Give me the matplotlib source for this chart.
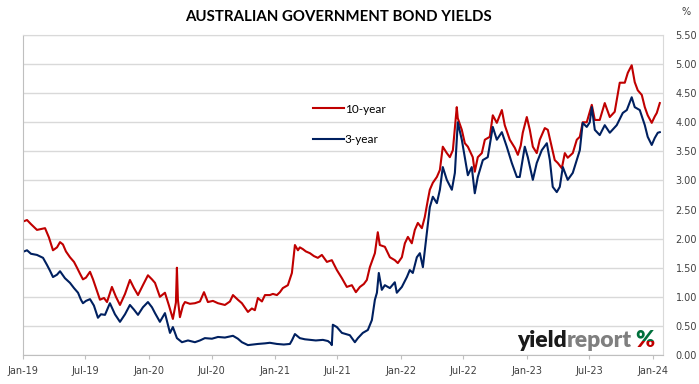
#
# plot.py - Australian government bond yields, 10-year vs 3-year (Jan 2019 - Jan 2024)
#
import matplotlib
matplotlib.use('Agg')
import matplotlib.pyplot as plt
import matplotlib.dates as mdates
import matplotlib.ticker as ticker
from matplotlib.transforms import Bbox
import pandas as pd

# Time of each reading in decimal years, and the yield (%)
t10 = [2019.008, 2019.032, 2019.063, 2019.111, 2019.175, 2019.206, 2019.238, 2019.270, 2019.294, 2019.317,
       2019.341, 2019.373, 2019.405, 2019.429, 2019.452, 2019.476, 2019.500, 2019.532, 2019.556, 2019.587,
       2019.611, 2019.643, 2019.667, 2019.706, 2019.738, 2019.770, 2019.810, 2019.849, 2019.881, 2019.913,
       2019.952, 2019.992, 2020.024, 2020.048, 2020.087, 2020.127, 2020.159, 2020.190, 2020.214, 2020.222,
       2020.230, 2020.246, 2020.270, 2020.286, 2020.325, 2020.365, 2020.405, 2020.437, 2020.468, 2020.508,
       2020.548, 2020.603, 2020.643, 2020.667, 2020.706, 2020.738, 2020.786, 2020.817, 2020.841, 2020.865,
       2020.897, 2020.921, 2020.960, 2020.984, 2021.016, 2021.040, 2021.063, 2021.103, 2021.135, 2021.159,
       2021.183, 2021.198, 2021.222, 2021.246, 2021.278, 2021.310, 2021.341, 2021.373, 2021.413, 2021.452,
       2021.492, 2021.532, 2021.571, 2021.611, 2021.643, 2021.675, 2021.706, 2021.730, 2021.754, 2021.794,
       2021.817, 2021.833, 2021.873, 2021.913, 2021.952, 2021.976, 2022.008, 2022.032, 2022.056, 2022.087,
       2022.111, 2022.135, 2022.167, 2022.190, 2022.214, 2022.230, 2022.254, 2022.286, 2022.310, 2022.333,
       2022.365, 2022.389, 2022.413, 2022.444, 2022.452, 2022.484, 2022.508, 2022.532, 2022.571, 2022.587,
       2022.611, 2022.643, 2022.667, 2022.706, 2022.730, 2022.762, 2022.802, 2022.825, 2022.865, 2022.905,
       2022.929, 2022.952, 2022.968, 2023.000, 2023.024, 2023.048, 2023.079, 2023.103, 2023.143, 2023.167,
       2023.198, 2023.222, 2023.246, 2023.278, 2023.302, 2023.325, 2023.365, 2023.397, 2023.421, 2023.444,
       2023.476, 2023.516, 2023.540, 2023.579, 2023.619, 2023.659, 2023.698, 2023.738, 2023.778, 2023.802,
       2023.833, 2023.857, 2023.881, 2023.913, 2023.937, 2023.960, 2023.992, 2024.016, 2024.032, 2024.056]
y10 = [2.30, 2.32, 2.25, 2.15, 2.18, 2.02, 1.80, 1.85, 1.94, 1.90,
       1.78, 1.68, 1.60, 1.50, 1.40, 1.30, 1.33, 1.43, 1.30, 1.10,
       0.95, 0.98, 0.91, 1.17, 1.00, 0.86, 1.05, 1.29, 1.15, 1.03,
       1.20, 1.37, 1.30, 1.24, 1.00, 1.07, 0.85, 0.62, 0.90, 1.50,
       0.95, 0.65, 0.85, 0.91, 0.88, 0.89, 0.92, 1.08, 0.91, 0.93,
       0.89, 0.86, 0.92, 1.03, 0.95, 0.89, 0.74, 0.80, 0.77, 0.98,
       0.92, 1.03, 1.03, 1.05, 1.03, 1.08, 1.15, 1.20, 1.41, 1.89,
       1.80, 1.85, 1.82, 1.78, 1.75, 1.70, 1.67, 1.72, 1.60, 1.63,
       1.46, 1.32, 1.17, 1.20, 1.08, 1.17, 1.22, 1.29, 1.51, 1.75,
       2.11, 1.89, 1.86, 1.68, 1.63, 1.58, 1.68, 1.92, 2.03, 1.92,
       2.15, 2.27, 2.18, 2.37, 2.66, 2.84, 2.96, 3.06, 3.18, 3.58,
       3.47, 3.40, 3.52, 4.26, 4.07, 3.87, 3.64, 3.58, 3.40, 3.15,
       3.40, 3.47, 3.70, 3.75, 4.12, 3.99, 4.21, 3.95, 3.70, 3.56,
       3.44, 3.60, 3.82, 4.09, 3.87, 3.58, 3.47, 3.70, 3.90, 3.87,
       3.58, 3.35, 3.30, 3.21, 3.47, 3.39, 3.47, 3.70, 3.75, 4.00,
       4.00, 4.30, 4.04, 4.04, 4.33, 4.09, 4.18, 4.68, 4.68, 4.85,
       4.98, 4.69, 4.55, 4.47, 4.26, 4.12, 3.99, 4.10, 4.16, 4.33]

t3 = [2019.008, 2019.032, 2019.063, 2019.111, 2019.159, 2019.190, 2019.214, 2019.238, 2019.270, 2019.294,
      2019.333, 2019.373, 2019.405, 2019.437, 2019.460, 2019.476, 2019.500, 2019.532, 2019.563, 2019.595,
      2019.619, 2019.651, 2019.690, 2019.730, 2019.770, 2019.810, 2019.849, 2019.881, 2019.913, 2019.952,
      2019.992, 2020.024, 2020.048, 2020.087, 2020.127, 2020.167, 2020.190, 2020.222, 2020.262, 2020.310,
      2020.365, 2020.405, 2020.444, 2020.500, 2020.548, 2020.603, 2020.667, 2020.706, 2020.738, 2020.786,
      2020.825, 2020.865, 2020.921, 2020.960, 2021.016, 2021.071, 2021.119, 2021.135, 2021.159, 2021.198,
      2021.238, 2021.278, 2021.325, 2021.381, 2021.421, 2021.444, 2021.452, 2021.460, 2021.492, 2021.532,
      2021.563, 2021.595, 2021.635, 2021.659, 2021.698, 2021.738, 2021.770, 2021.794, 2021.810, 2021.825,
      2021.849, 2021.873, 2021.913, 2021.952, 2021.968, 2022.008, 2022.048, 2022.071, 2022.095, 2022.127,
      2022.151, 2022.175, 2022.206, 2022.230, 2022.254, 2022.286, 2022.310, 2022.333, 2022.365, 2022.405,
      2022.429, 2022.452, 2022.484, 2022.508, 2022.532, 2022.563, 2022.587, 2022.611, 2022.651, 2022.690,
      2022.730, 2022.762, 2022.802, 2022.841, 2022.881, 2022.921, 2022.944, 2022.984, 2023.008, 2023.048,
      2023.079, 2023.119, 2023.159, 2023.183, 2023.206, 2023.238, 2023.262, 2023.286, 2023.325, 2023.365,
      2023.397, 2023.421, 2023.444, 2023.476, 2023.500, 2023.516, 2023.540, 2023.579, 2023.619, 2023.659,
      2023.714, 2023.762, 2023.794, 2023.833, 2023.857, 2023.897, 2023.937, 2023.960, 2023.992, 2024.016,
      2024.040, 2024.056]
y3 = [1.78, 1.80, 1.74, 1.72, 1.67, 1.55, 1.45, 1.34, 1.38, 1.44,
      1.32, 1.24, 1.15, 1.07, 0.95, 0.89, 0.93, 0.96, 0.85, 0.64,
      0.70, 0.69, 0.89, 0.70, 0.57, 0.70, 0.86, 0.78, 0.69, 0.82,
      0.91, 0.82, 0.72, 0.57, 0.72, 0.38, 0.48, 0.29, 0.22, 0.25,
      0.22, 0.25, 0.29, 0.28, 0.31, 0.30, 0.33, 0.28, 0.22, 0.17,
      0.18, 0.19, 0.20, 0.21, 0.19, 0.18, 0.19, 0.25, 0.36, 0.29,
      0.27, 0.26, 0.25, 0.26, 0.24, 0.20, 0.17, 0.52, 0.48, 0.38,
      0.36, 0.34, 0.22, 0.29, 0.38, 0.43, 0.60, 0.95, 1.07, 1.41,
      1.12, 1.20, 1.15, 1.25, 1.07, 1.17, 1.34, 1.46, 1.41, 1.68,
      1.75, 1.51, 2.10, 2.54, 2.72, 2.61, 2.84, 3.23, 3.01, 2.84,
      3.13, 4.00, 3.70, 3.40, 3.09, 3.23, 2.78, 3.06, 3.35, 3.40,
      3.92, 3.70, 3.83, 3.58, 3.30, 3.06, 3.06, 3.58, 3.40, 3.01,
      3.30, 3.52, 3.64, 3.35, 2.89, 2.80, 2.89, 3.23, 3.01, 3.13,
      3.35, 3.52, 3.99, 3.92, 4.00, 4.26, 3.87, 3.78, 3.95, 3.82,
      3.95, 4.16, 4.21, 4.43, 4.26, 4.21, 3.95, 3.75, 3.61, 3.73,
      3.82, 3.83]

labels = ['10-year', '3-year']
colours = ['#c00000', '#002060']


# Decimal years -> timestamps so the axis can use real dates
def toDates(years):
    start = pd.Timestamp('2019-01-01')
    return [start + pd.Timedelta(days=(y - 2019) * 365.25) for y in years]


fig = plt.figure(figsize=(6.99, 3.84), dpi=100)
ax = fig.add_axes([23/699, 29/384, 640/699, 320/384])

ax.plot(toDates(t10), y10, color=colours[0], lw=1.5, label=labels[0])
ax.plot(toDates(t3), y3, color=colours[1], lw=1.5, label=labels[1])

ax.set_xlim(pd.Timestamp('2019-01-01'), pd.Timestamp('2024-01-31'))
ax.set_ylim(0, 5.5)

# Excel style axes: values on the right, light grey grid, Jan/Jul ticks
ax.yaxis.tick_right()
ax.yaxis.set_major_locator(ticker.MultipleLocator(0.5))
ax.yaxis.set_major_formatter(ticker.FormatStrFormatter('%.2f'))
ax.xaxis.set_major_locator(mdates.MonthLocator(bymonth=[1, 7]))
ax.xaxis.set_major_formatter(mdates.DateFormatter('%b-%y'))
ax.tick_params(axis='y', length=0, pad=9, labelsize=7, labelcolor='#404040')
ax.tick_params(axis='x', length=3, color='#bfbfbf', pad=5, labelsize=7, labelcolor='#404040')
ax.grid(axis='y', color='#d9d9d9', lw=1)
ax.set_axisbelow(True)
for side in ['left', 'bottom', 'right', 'top']:
    ax.spines[side].set_color('#d9d9d9')
ax.spines['left'].set_color('#bfbfbf')
ax.spines['bottom'].set_color('#bfbfbf')

fig.text(338/699, 1 - 17/384, 'AUSTRALIAN GOVERNMENT BOND YIELDS', family='Lato', weight='bold',
         fontsize=10.8, ha='center', va='center', color='#000000')
fig.text(686/699, 1 - 12/384, '%', fontsize=7, ha='center', va='center', color='#404040')

ax.legend(loc='upper left', bbox_to_anchor=(0.437, 0.819), frameon=False, handlelength=2.6,
          labelspacing=1.63, handletextpad=0.05, prop={'family': 'Lato', 'size': 8.5})

# yieldreport logo in the bottom right corner
logo_y = 0.025
t1 = ax.text(0.772, logo_y, 'yield', transform=ax.transAxes, family='Lato', weight='heavy',
             fontsize=16.5, color='#1a1a1a', va='baseline', ha='left',
             bbox=dict(facecolor='white', edgecolor='none', pad=1))
fig.canvas.draw()
bb = t1.get_window_extent()
x1 = ax.transAxes.inverted().transform((bb.x1, bb.y0))[0]
t2 = ax.text(x1, logo_y, 'report', transform=ax.transAxes, family='Lato', weight='heavy',
             fontsize=16.5, color='#7f7f7f', va='baseline', ha='left')
fig.canvas.draw()
bb2 = t2.get_window_extent()
x2 = ax.transAxes.inverted().transform((bb2.x1 + 3, bb2.y0))[0]
pct_top = ax.text(x2, logo_y, '%', transform=ax.transAxes, family='Lato', weight='heavy',
                  fontsize=16.5, color='#00703c', va='baseline', ha='left')
pct_bot = ax.text(x2, logo_y, '%', transform=ax.transAxes, family='Lato', weight='heavy',
                  fontsize=16.5, color='#c00000', va='baseline', ha='left')
fig.canvas.draw()
pb = pct_top.get_window_extent()
mid = (pb.y0 + pb.y1) / 2
pct_top.set_clip_box(Bbox([[pb.x0 - 2, mid], [pb.x1 + 2, pb.y1 + 5]]))
pct_top.set_clip_on(True)
pct_bot.set_clip_box(Bbox([[pb.x0 - 2, pb.y0 - 5], [pb.x1 + 2, mid]]))
pct_bot.set_clip_on(True)

fig.savefig('out.png', dpi=100)
